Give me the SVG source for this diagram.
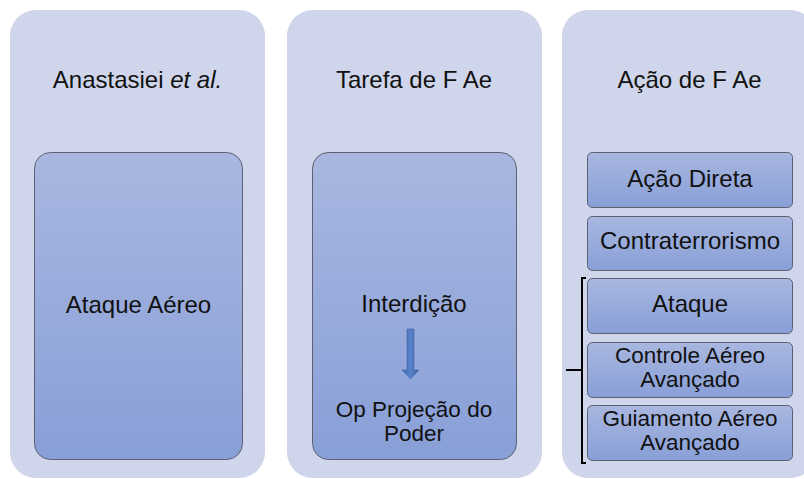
<svg xmlns="http://www.w3.org/2000/svg" width="804" height="479" viewBox="0 0 804 479">
<defs>
<linearGradient id="g" x1="0" y1="0" x2="0" y2="1">
<stop offset="0" stop-color="#a9b7e0"/>
<stop offset="1" stop-color="#889fd7"/>
</linearGradient>
<linearGradient id="ga" x1="0" y1="0" x2="1" y2="0">
<stop offset="0" stop-color="#3d64b0"/>
<stop offset="0.5" stop-color="#5a82c8"/>
<stop offset="1" stop-color="#3d64b0"/>
</linearGradient>
<style>
.outer{fill:#cfd5ea}
.box{fill:url(#g);stroke:#5c6070;stroke-width:1}
text{font-family:"Liberation Sans",Arial,sans-serif;font-size:24px;fill:#111;text-anchor:middle}
text.two{font-size:22.5px}
.br{fill:none;stroke:#000;stroke-width:2}
</style>
</defs>
<rect x="0" y="0" width="804" height="479" fill="#fff"/>
<g id="col1">
<rect class="outer" x="10" y="10" width="255" height="468" rx="26"/>
<text x="137.5" y="88">Anastasiei <tspan font-style="italic">et al.</tspan></text>
</g>
<g id="col2">
<rect class="outer" x="287" y="10" width="255" height="468" rx="26"/>
<text x="414" y="88">Tarefa de F Ae</text>
</g>
<g id="col3">
<rect class="outer" x="562" y="10" width="254" height="468" rx="26"/>
<text x="689.5" y="88">Ação de F Ae</text>
</g>
<g id="ataque-aereo">
<rect class="box" x="34.5" y="152.5" width="208" height="307" rx="16"/>
<text x="138.5" y="313">Ataque Aéreo</text>
</g>
<g id="interdicao">
<rect class="box" x="312.5" y="152.5" width="204" height="307" rx="16"/>
<text x="414" y="312">Interdição</text>
<text class="two" x="414" y="417">Op Projeção do</text>
<text class="two" x="414" y="441">Poder</text>
</g>
<g id="acao-direta">
<rect class="box" x="587.5" y="152.5" width="205" height="55" rx="5"/>
<text x="690" y="187">Ação Direta</text>
</g>
<g id="contraterrorismo">
<rect class="box" x="587.5" y="216.5" width="205" height="54" rx="5"/>
<text x="690" y="249">Contraterrorismo</text>
</g>
<g id="ataque">
<rect class="box" x="587.5" y="278.5" width="205" height="55" rx="5"/>
<text x="690" y="312">Ataque</text>
</g>
<g id="controle">
<rect class="box" x="587.5" y="342.5" width="205" height="55" rx="5"/>
<text class="two" x="690" y="363">Controle Aéreo</text>
<text class="two" x="690" y="387">Avançado</text>
</g>
<g id="guiamento">
<rect class="box" x="587.5" y="405.5" width="205" height="55" rx="5"/>
<text class="two" x="690" y="426">Guiamento Aéreo</text>
<text class="two" x="690" y="450">Avançado</text>
</g>
<g id="connectors">
<path d="M407,329 H414 V370 H419 L410.5,379 L402,370 H407 Z" fill="url(#ga)" stroke="#3a5fa8" stroke-width="0.5"/>
<path class="br" d="M586,278 H582 V463 H586 M582,370 H566"/>
</g>
</svg>
